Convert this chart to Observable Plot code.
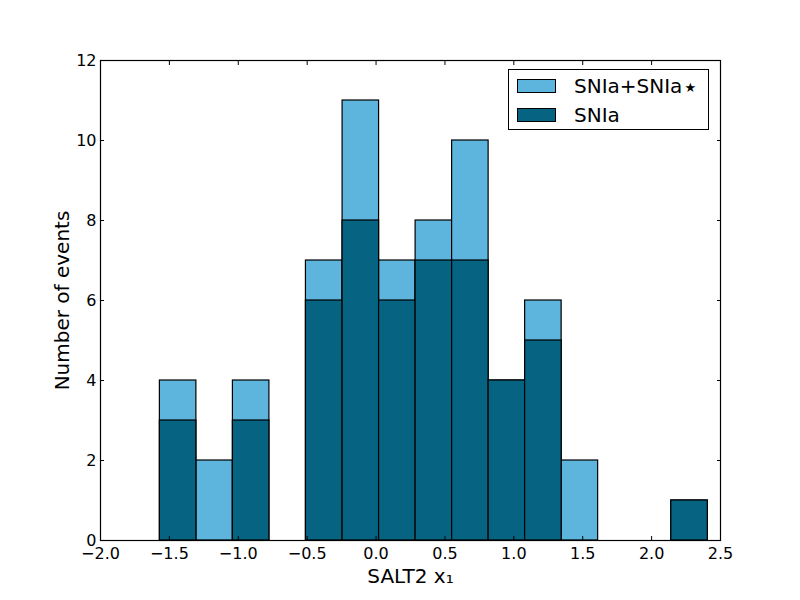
<!DOCTYPE html>
<html><head><meta charset="utf-8">
<script src="https://cdn.jsdelivr.net/npm/d3@7"></script>
<script src="https://cdn.jsdelivr.net/npm/@observablehq/plot@0.6"></script>
<style>
body{margin:0;background:#fff;font-family:"DejaVu Sans",sans-serif;}
#wrap{position:relative;width:800px;height:600px;}
#legend{position:absolute;left:508px;top:69px;width:201px;height:61px;border:1px solid #000;background:#fff;box-sizing:border-box;font-size:20px;}
.row{position:absolute;left:8px;display:flex;align-items:center;}
.sw{width:39px;height:14px;border:1px solid #000;box-sizing:border-box;margin-right:18px;}
</style></head><body>
<div id="wrap"><div id="chart"></div>
<div id="legend">
<div class="row" style="top:4px"><div class="sw" style="background:#5db4dc"></div><span>SNIa+SNIa<span style="font-size:13px;position:relative;top:-1px;margin-left:2px">&#x2605;</span></span></div>
<div class="row" style="top:33px"><div class="sw" style="background:#066482"></div><span>SNIa</span></div>
</div></div>
<script>
const binEdges = [-1.569,-1.304,-1.039,-0.774,-0.509,-0.243,0.022,0.287,0.552,0.817,1.082,1.347,1.612,1.877,2.143,2.408];
const allCounts = [4,2,4,0,7,11,7,8,10,4,6,2,0,0,1];
const sniaCounts = [3,0,3,0,6,8,6,7,7,4,5,0,0,0,1];
const xTicks = [-2.0,-1.5,-1.0,-0.5,0.0,0.5,1.0,1.5,2.0,2.5];
const yTicks = [0,2,4,6,8,10,12];

const toBins = counts => counts.map((c,i)=>({x1:binEdges[i],x2:binEdges[i+1],y:c})).filter(d=>d.y>0);
const fmtX = d => d.toFixed(1).replace("-","\u2212");

const plot = Plot.plot({
  width:800, height:600,
  marginLeft:100, marginRight:80, marginTop:60, marginBottom:60,
  style:{fontFamily:"DejaVu Sans, sans-serif", fontSize:"16px", color:"#000", background:"#fff"},
  x:{domain:[-2.0,2.5]},
  y:{domain:[0,12]},
  marks:[
    Plot.rectY(toBins(allCounts),{x1:"x1",x2:"x2",y:"y",fill:"#5db4dc",stroke:"#000",strokeWidth:1.2}),
    Plot.rectY(toBins(sniaCounts),{x1:"x1",x2:"x2",y:"y",fill:"#066482",stroke:"#000",strokeWidth:1.2}),
    Plot.axisX(xTicks,{anchor:"bottom",tickSize:0,tickPadding:7,tickFormat:fmtX,fontSize:16,label:null}),
    Plot.axisX(xTicks,{anchor:"bottom",tickSize:-4,tickFormat:()=>"",label:null,stroke:"#000"}),
    Plot.axisX(xTicks,{anchor:"top",tickSize:-4,tickFormat:()=>"",label:null,stroke:"#000"}),
    Plot.axisY(yTicks,{anchor:"left",tickSize:0,tickPadding:4,fontSize:16,label:null}),
    Plot.axisY(yTicks,{anchor:"left",tickSize:-4,tickFormat:()=>"",label:null,stroke:"#000"}),
    Plot.axisY(yTicks,{anchor:"right",tickSize:-4,tickFormat:()=>"",label:null,stroke:"#000"}),
    Plot.frame({stroke:"#000",strokeWidth:1.2}),
    Plot.text(["SALT2 x\u2081"],{frameAnchor:"bottom",dy:42,fontSize:20,text:d=>d}),
    Plot.text(["Number of events"],{frameAnchor:"left",textAnchor:"middle",dx:-38,rotate:-90,fontSize:20,text:d=>d})
  ]
});
document.getElementById("chart").appendChild(plot);
</script>
</body></html>
